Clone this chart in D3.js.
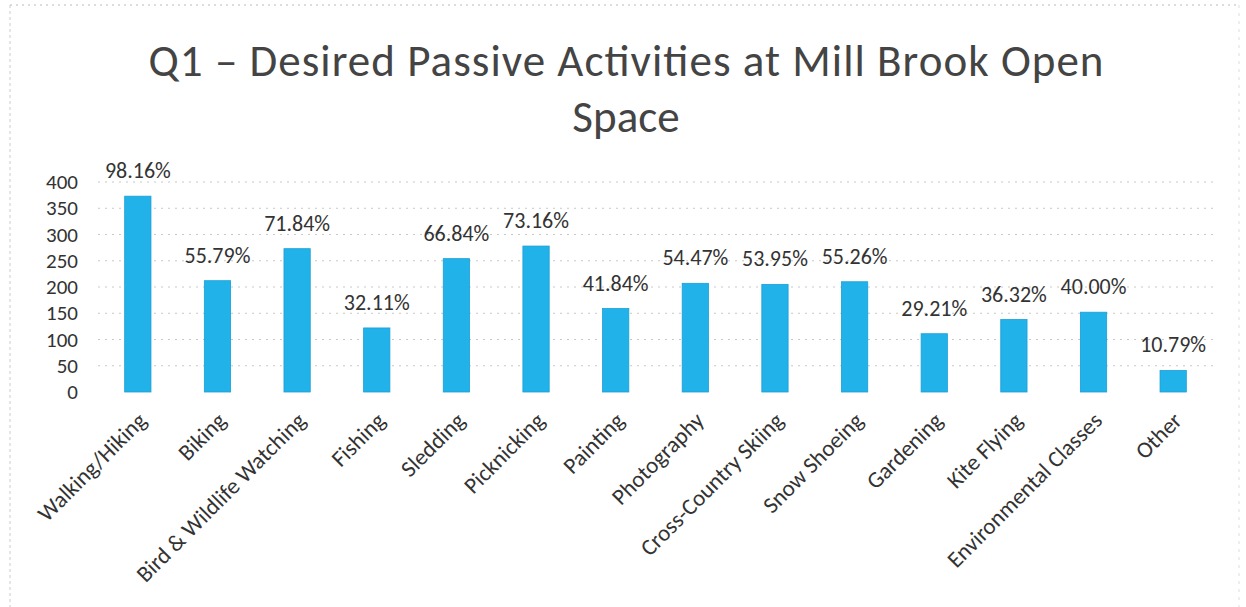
<!DOCTYPE html>
<html>
<head>
<meta charset="utf-8">
<script src="https://cdn.jsdelivr.net/npm/d3@7"></script>
<style>
  html, body { margin: 0; padding: 0; background: #fff; }
  svg { display: block; }
  text { font-family: Carlito, Calibri, Lato, "Open Sans", sans-serif; fill: #333; }
</style>
</head>
<body>
<svg id="chart" width="1246" height="607"></svg>
<script>
const categories = ["Walking/Hiking", "Biking", "Bird & Wildlife Watching", "Fishing", "Sledding",
  "Picknicking", "Painting", "Photography", "Cross-Country Skiing", "Snow Shoeing",
  "Gardening", "Kite Flying", "Environmental Classes", "Other"];
const counts = [373, 212, 273, 122, 254, 278, 159, 207, 205, 210, 111, 138, 152, 41];
const percentLabels = ["98.16%", "55.79%", "71.84%", "32.11%", "66.84%", "73.16%", "41.84%",
  "54.47%", "53.95%", "55.26%", "29.21%", "36.32%", "40.00%", "10.79%"];
const yTicks = [0, 50, 100, 150, 200, 250, 300, 350, 400];
const titleLines = ["Q1 \u2013 Desired Passive Activities at Mill Brook Open", "Space"];

const svg = d3.select("#chart");
const W = 1246, H = 607;

// faint scanned page border
svg.append("line").attr("x1", 10).attr("x2", 10).attr("y1", 5).attr("y2", H)
  .attr("stroke", "#ccc").attr("stroke-width", 1).attr("stroke-dasharray", "3,3");
svg.append("line").attr("x1", 10).attr("x2", W - 6).attr("y1", 5).attr("y2", 5)
  .attr("stroke", "#bbb").attr("stroke-width", 1).attr("stroke-dasharray", "2,4");
svg.append("line").attr("x1", W - 7).attr("x2", W - 7).attr("y1", 5).attr("y2", H)
  .attr("stroke", "#ddd").attr("stroke-width", 1).attr("stroke-dasharray", "3,5");

// title
svg.append("text").attr("x", 626).attr("y", 76).attr("text-anchor", "middle")
  .attr("textLength", 955).attr("lengthAdjust", "spacing")
  .style("font-size", "45px").style("fill", "#444").text(titleLines[0]);
svg.append("text").attr("x", 626).attr("y", 132).attr("text-anchor", "middle")
  .style("font-size", "45px").style("fill", "#444").text(titleLines[1]);

const x = d3.scaleBand().domain(categories).range([98, 1213]).paddingInner(0.67).paddingOuter(0.335);
const y = d3.scaleLinear().domain([0, 400]).range([392, 182]);

// gridlines (faint dotted)
svg.append("g").selectAll("line").data(yTicks.filter(d => d > 0)).join("line")
  .attr("x1", 98).attr("x2", 1213)
  .attr("y1", d => y(d)).attr("y2", d => y(d))
  .attr("stroke", "#c8c8c8").attr("stroke-width", 1).attr("stroke-dasharray", "2,5");

// y axis
const yAxis = svg.append("g").attr("transform", "translate(84,0)")
  .call(d3.axisLeft(y).tickValues(yTicks).tickSize(0).tickPadding(6));
yAxis.select(".domain").remove();
yAxis.selectAll("text").style("font-size", "21px").style("fill", "#333")
  .style("font-family", "Carlito, Calibri, Lato, sans-serif");

// bars
svg.append("g").selectAll("rect").data(categories).join("rect")
  .attr("x", d => x(d))
  .attr("width", x.bandwidth())
  .attr("y", (d, i) => y(counts[i]))
  .attr("height", (d, i) => y(0) - y(counts[i]))
  .attr("fill", "#21b2ea")
  .attr("stroke", "#1a9fd6").attr("stroke-width", 0.8);

// value labels
svg.append("g").selectAll("text").data(categories).join("text")
  .attr("x", d => x(d) + x.bandwidth() / 2)
  .attr("y", (d, i) => y(counts[i]) - 18)
  .attr("text-anchor", "middle")
  .style("font-size", "22px").style("fill", "#333")
  .text((d, i) => percentLabels[i]);

// x axis
const xAxis = svg.append("g").attr("transform", "translate(0,392)")
  .call(d3.axisBottom(x).tickSize(0).tickPadding(0));
xAxis.select(".domain").remove();
xAxis.selectAll("text")
  .style("font-size", "23px").style("fill", "#333")
  .style("font-family", "Carlito, Calibri, Lato, sans-serif")
  .attr("text-anchor", "end")
  .attr("dy", null).attr("y", 0)
  .attr("transform", "translate(10,30) rotate(-45)");
</script>
</body>
</html>
